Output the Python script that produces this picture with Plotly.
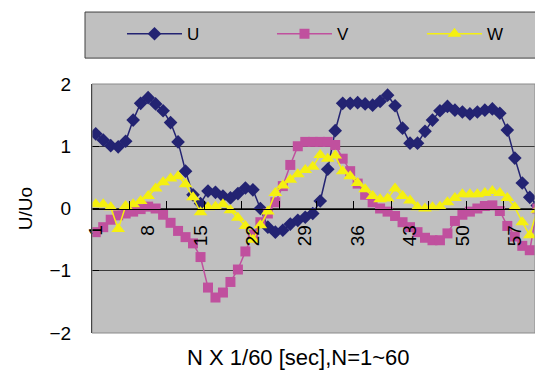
import plotly.graph_objects as go

N = list(range(1, 61))
U = [1.20, 1.10, 1.01, 0.99, 1.08, 1.42, 1.69, 1.78, 1.68, 1.57,
     1.38, 1.07, 0.60, 0.22, 0.08, 0.28, 0.26, 0.20, 0.17, 0.24,
     0.33, 0.30, 0.00, -0.30, -0.38, -0.35, -0.25, -0.19, -0.14, -0.08,
     0.12, 0.63, 1.25, 1.69, 1.69, 1.70, 1.68, 1.66, 1.72, 1.82,
     1.65, 1.29, 1.05, 1.05, 1.24, 1.42, 1.57, 1.64, 1.58, 1.55,
     1.52, 1.55, 1.58, 1.60, 1.53, 1.26, 0.81, 0.41, 0.18, 0.05]
V = [-0.38, -0.30, -0.18, -0.11, -0.08, -0.05, -0.01, 0.03, 0.00, -0.10,
     -0.23, -0.36, -0.46, -0.56, -0.78, -1.27, -1.43, -1.35, -1.18, -0.98,
     -0.69, -0.42, -0.22, -0.08, 0.10, 0.36, 0.70, 1.00, 1.07, 1.07,
     1.07, 1.07, 1.02, 0.80, 0.60, 0.40, 0.22, 0.10, 0.00, -0.05,
     -0.12, -0.22, -0.30, -0.38, -0.47, -0.51, -0.51, -0.40, -0.20, -0.10,
     -0.05, 0.00, 0.04, 0.05, -0.04, -0.28, -0.45, -0.60, -0.67, 0.00]
W = [0.07, 0.07, 0.02, -0.33, 0.04, 0.07, 0.12, 0.20, 0.32, 0.42,
     0.48, 0.52, 0.39, 0.18, -0.06, 0.02, 0.03, 0.07, -0.03, -0.15,
     -0.28, -0.50, -0.27, -0.05, 0.25, 0.37, 0.46, 0.55, 0.62, 0.67,
     0.86, 0.80, 0.85, 0.60, 0.52, 0.41, 0.31, 0.20, 0.15, 0.16,
     0.32, 0.20, 0.13, 0.02, 0.00, 0.02, 0.03, 0.10, 0.17, 0.23,
     0.23, 0.23, 0.25, 0.28, 0.25, 0.17, 0.02, -0.22, -0.43, -0.02]
X_TICKS = [1, 8, 15, 22, 29, 36, 43, 50, 57]
X_MINOR = [5.5, 10.5, 15.5, 20.5, 25.5, 30.5, 35.5, 40.5, 45.5, 50.5, 55.5]
Y_TICKS = [-2, -1, 0, 1, 2]

FONT = "Liberation Sans"

fig = go.Figure()
fig.add_trace(go.Scatter(x=N, y=U, name="U", mode="lines+markers", legend="legend",
                         line=dict(color="#232372", width=1.5),
                         marker=dict(symbol="diamond", size=10.5, color="#232372")))
fig.add_trace(go.Scatter(x=N, y=V, name="V", mode="lines+markers", legend="legend2",
                         line=dict(color="#C0509E", width=1.5),
                         marker=dict(symbol="square", size=10, color="#C0509E")))
fig.add_trace(go.Scatter(x=N, y=W, name="W", mode="lines+markers", legend="legend3",
                         line=dict(color="#F5F010", width=1.5),
                         marker=dict(symbol="triangle-up", size=12, color="#F5F010")))

def leg(xp):
    return dict(orientation="h", x=xp, xanchor="left", y=1.2, yanchor="middle",
                bgcolor="rgba(0,0,0,0)", font=dict(size=17, family=FONT),
                itemwidth=55)

fig.update_layout(
    width=535, height=370,
    margin=dict(l=92, r=0, t=84, b=37, autoexpand=False),
    paper_bgcolor="white", plot_bgcolor="#C0C0C0",
    font=dict(family=FONT, size=19, color="black"),
    showlegend=True,
    legend=leg(0.0677), legend2=leg(0.4063), legend3=leg(0.7449),
    xaxis=dict(range=[0.5, 59.7], anchor="free", position=0.5, automargin=False,
               tickmode="array", tickvals=X_TICKS, ticktext=[str(t) for t in X_TICKS],
               tickangle=-90, ticks="", ticklabelstandoff=8,
               showgrid=False, zeroline=False, showline=True, linecolor="black", linewidth=1,
               minor=dict(tickvals=X_MINOR, ticks="inside", ticklen=8, tickcolor="black", showgrid=False),
               tickfont=dict(size=19, family=FONT)),
    yaxis=dict(range=[-2, 2], tickmode="array", tickvals=Y_TICKS, automargin=False,
               showgrid=True, gridcolor="#3a3a3a", gridwidth=1, zeroline=False,
               showline=True, linecolor="black", linewidth=1,
               ticks="inside", ticklen=7, tickcolor="black", ticklabelstandoff=16,
               tickfont=dict(size=19, family=FONT),
               title=dict(text="U/Uo", font=dict(size=19, family=FONT), standoff=11)),
    shapes=[
        dict(type="rect", xref="x domain", yref="y domain", x0=0, x1=1, y0=0, y1=1,
             line=dict(color="#8a8a8a", width=1), layer="above"),
        dict(type="rect", xref="paper", yref="paper", x0=-0.0158, x1=1.02, y0=1.104, y1=1.289,
             fillcolor="#C0C0C0", line=dict(color="#404040", width=1), layer="below"),
    ],
    annotations=[
        dict(text="N X 1/60 [sec],N=1~60", xref="paper", yref="paper",
             x=0.467, y=-0.1004, xanchor="center", yanchor="middle", showarrow=False,
             font=dict(size=22, family=FONT)),
    ],
)

fig.write_html("out.html", config={"displayModeBar": False},
               post_script="document.body.style.margin='0px';")
